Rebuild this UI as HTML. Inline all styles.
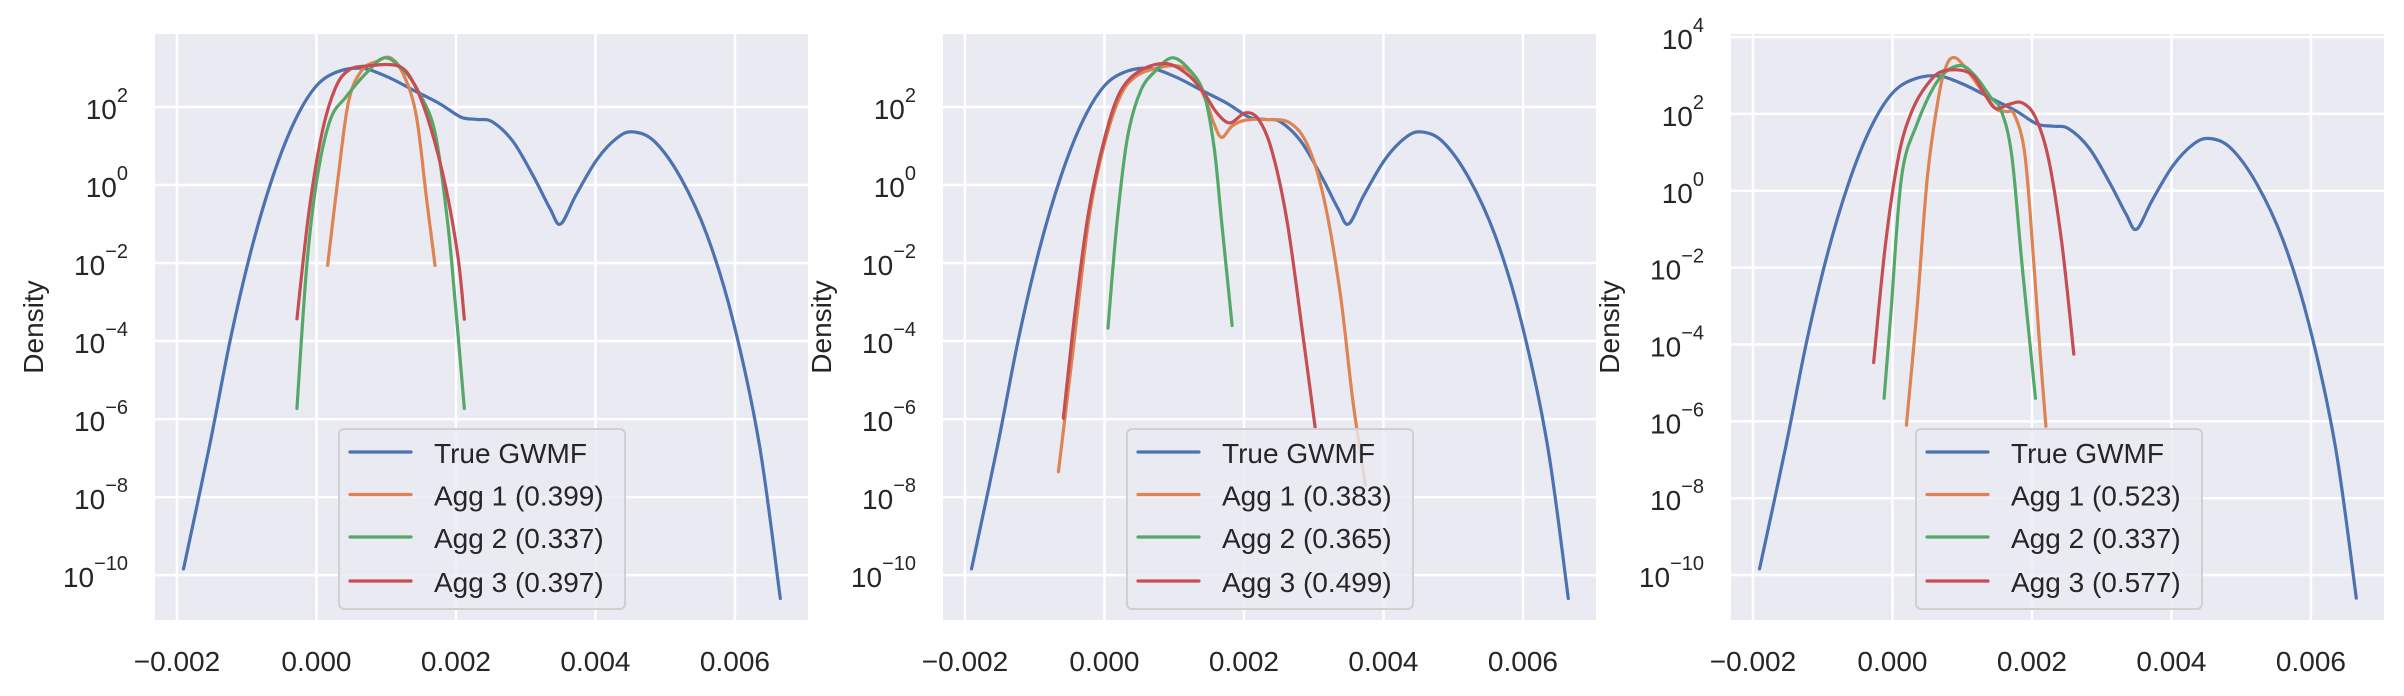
<!DOCTYPE html>
<html><head><meta charset="utf-8"><style>
html,body{margin:0;padding:0;background:#fff;}
svg{display:block;font-family:"Liberation Sans",sans-serif;}
</style></head><body>
<svg id="fig" width="2404" height="696" viewBox="0 0 2404 696" xmlns="http://www.w3.org/2000/svg"></svg>
<script>
// ---- data (x, log10 density) ----
const xTicks = [-0.002, 0.000, 0.002, 0.004, 0.006];
const xTickLabels = ["\u22120.002","0.000","0.002","0.004","0.006"];
const yTicks12 = [2,0,-2,-4,-6,-8,-10];
const yTicks3 = [4,2,0,-2,-4,-6,-8,-10];
const seriesNames = ["True GWMF","Agg 1","Agg 2","Agg 3"];
const scores1 = ["0.399","0.337","0.397"];
const scores2 = ["0.383","0.365","0.499"];
const scores3 = ["0.523","0.337","0.577"];
const trueX = [-0.001906,-0.00153,-0.00123,-0.00093,-0.00063,-0.00033,-0.00003,0.00027,0.00065,0.00102,0.0014,0.00177,0.00207,0.0023,0.00252,0.00282,0.00312,0.00335,0.0035,0.00372,0.00402,0.00432,0.00455,0.00485,0.00522,0.0056,0.00597,0.00635,0.00665];
const trueY = [-9.84,-6.66,-3.92,-1.63,0.19,1.57,2.48,2.88,2.99,2.77,2.42,2.08,1.74,1.68,1.62,1.11,0.19,-0.61,-1.0,-0.26,0.65,1.22,1.36,1.11,0.19,-1.29,-3.46,-6.66,-10.6];
// panel 1
const p1a1X=[0.00016,0.00031,0.00046,0.00065,0.00087,0.00106,0.00125,0.00143,0.00158,0.0017];
const p1a1Y=[-2.06,0.19,2.14,2.94,3.17,3.26,2.82,1.79,-0.38,-2.06];
const p1a2X=[-0.00028,-0.00014,0.00001,0.0002,0.00042,0.00072,0.00098,0.00125,0.00147,0.0017,0.00188,0.002,0.00212];
const p1a2Y=[-5.73,-2.09,0.19,1.68,2.25,2.88,3.26,2.94,2.37,1.34,-0.95,-3.23,-5.73];
const p1a3X=[-0.00028,-0.00011,0.00008,0.00027,0.00046,0.00072,0.00117,0.0014,0.00162,0.00185,0.00203,0.00212];
const p1a3Y=[-3.43,-0.72,1.34,2.48,2.94,3.05,3.05,2.59,1.57,-0.03,-1.86,-3.44];
// panel 2
const p2a1X=[-0.00066,-0.00046,-0.00023,-0.00001,0.00022,0.00044,0.00074,0.00105,0.00127,0.00146,0.00157,0.00168,0.00183,0.00202,0.00232,0.00266,0.00292,0.00315,0.00338,0.00356,0.00374];
const p2a1Y=[-7.35,-4.38,-0.95,0.99,2.25,2.77,2.99,3.05,2.82,2.14,1.57,1.22,1.51,1.66,1.68,1.59,0.99,-0.38,-2.78,-5.52,-7.69];
const p2a2X=[0.00005,0.00018,0.00033,0.00052,0.00074,0.00097,0.0012,0.00142,0.00157,0.00168,0.00183];
const p2a2Y=[-3.67,-0.95,1.22,2.42,2.94,3.26,2.99,2.37,0.99,-0.95,-3.6];
const p2a3X=[-0.00059,-0.00042,-0.00023,-0.00001,0.00022,0.00052,0.00089,0.0012,0.00142,0.00161,0.0018,0.00202,0.00221,0.0024,0.00262,0.00285,0.00302];
const p2a3Y=[-5.98,-3.23,-0.72,1.11,2.37,2.94,3.11,2.82,2.37,1.85,1.59,1.85,1.68,0.88,-0.95,-3.92,-6.21];
// panel 3
const p3a1X=[0.0002,0.00035,0.0005,0.00066,0.00077,0.00088,0.00103,0.00126,0.00148,0.00163,0.00175,0.0019,0.00203,0.00212,0.0022];
const p3a1Y=[-6.1,-3.12,0.35,2.43,3.24,3.47,3.24,2.66,2.14,2.06,1.97,0.92,-1.97,-4.28,-6.13];
const p3a2X=[-0.00012,-0.00002,0.00013,0.00035,0.00066,0.00096,0.00118,0.00141,0.00156,0.00171,0.00186,0.00205];
const p3a2Y=[-5.4,-3.12,0.35,1.73,2.89,3.26,3.0,2.43,2.08,0.92,-1.97,-5.4];
const p3a3X=[-0.00027,-0.0001,0.00009,0.00028,0.0005,0.00073,0.00111,0.00133,0.00148,0.00167,0.00186,0.00205,0.00224,0.00243,0.0026];
const p3a3Y=[-4.47,-1.39,0.92,2.08,2.77,3.12,3.06,2.49,2.14,2.25,2.29,1.91,0.81,-1.39,-4.25];

const colors=["#4c72b0","#dd8452","#55a868","#c44e52"];
const NS="http://www.w3.org/2000/svg";
const svg=document.getElementById('fig');
function mk(tag,attrs,parent){const e=document.createElementNS(NS,tag);for(const k in attrs)e.setAttribute(k,attrs[k]);(parent||svg).appendChild(e);return e;}

const panels=[
 {left:155,right:808,ymin:-11.15,ymax:3.87,yt:yTicks12,scores:scores1,series:[[p1a1X,p1a1Y],[p1a2X,p1a2Y],[p1a3X,p1a3Y]],legX:339},
 {left:943,right:1596,ymin:-11.15,ymax:3.87,yt:yTicks12,scores:scores2,series:[[p2a1X,p2a1Y],[p2a2X,p2a2Y],[p2a3X,p2a3Y]],legX:1127},
 {left:1731,right:2384,ymin:-11.17,ymax:4.08,yt:yTicks3,scores:scores3,series:[[p3a1X,p3a1Y],[p3a2X,p3a2Y],[p3a3X,p3a3Y]],legX:1916}
];
const TOP=34,BOT=620,XMIN=-0.002315,XMAX=0.007047;

function pathFrom(xs,ys,sx,sy){
 const p=xs.map((x,i)=>[sx(x),sy(ys[i])]);
 let d="M"+p[0][0].toFixed(2)+","+p[0][1].toFixed(2);
 for(let i=0;i<p.length-1;i++){
  const p0=p[Math.max(0,i-1)],p1=p[i],p2=p[i+1],p3=p[Math.min(p.length-1,i+2)];
  const c1=[p1[0]+(p2[0]-p0[0])/6,p1[1]+(p2[1]-p0[1])/6];
  const c2=[p2[0]-(p3[0]-p1[0])/6,p2[1]-(p3[1]-p1[1])/6];
  d+=" C"+c1[0].toFixed(2)+","+c1[1].toFixed(2)+" "+c2[0].toFixed(2)+","+c2[1].toFixed(2)+" "+p2[0].toFixed(2)+","+p2[1].toFixed(2);
 }
 return d;
}

panels.forEach((P,pi)=>{
 const g=mk('g',{});
 
 
 const sx=x=>P.left+(x-XMIN)/(XMAX-XMIN)*(P.right-P.left);
 const sy=v=>BOT-(v-P.ymin)/(P.ymax-P.ymin)*(BOT-TOP);
 const bg=mk('rect',{x:P.left,y:TOP,width:P.right-P.left,height:BOT-TOP,fill:"#eaeaf2"},g);
 
 
 P.yt.forEach(t=>{
  const y=sy(t);
  const l=mk('line',{x1:P.left,x2:P.right,y1:y,y2:y,stroke:"#fff","stroke-width":2.5},g);
  
  
  const tx=mk('text',{x:P.left-27,y:y+12,"text-anchor":"end","font-size":28,fill:"#262626"},g);
  
  
  tx.appendChild(document.createTextNode("10"));
  const sup=mk('tspan',{"font-size":20,dy:-17},tx);
  sup.textContent=(t<0?"\u2212"+(-t):String(t));
 });
 xTicks.forEach((t,i)=>{
  const x=sx(t);
  const l=mk('line',{x1:x,x2:x,y1:TOP,y2:BOT,stroke:"#fff","stroke-width":2.5},g);
  
  
  const tx=mk('text',{x:x,y:671,"text-anchor":"middle","font-size":28,fill:"#262626"},g);
  
  
  tx.textContent=xTickLabels[i];
 });
 const yl=mk('text',{x:0,y:0,transform:"translate("+(P.left-112)+",327) rotate(-90)","text-anchor":"middle","font-size":28,fill:"#262626"},g);
 
 
 yl.textContent="Density";
 const all=[[trueX,trueY]].concat(P.series);
 all.forEach((s,si)=>{
  const p=mk('path',{d:pathFrom(s[0],s[1],sx,sy),fill:"none",stroke:colors[si],"stroke-width":3.2,"stroke-linecap":"round","stroke-linejoin":"round"},g);
  
  
 });
 const lg=mk('g',{},g);
 
 
 const lx=P.legX;
 mk('rect',{x:lx,y:429,width:286,height:180,rx:5,fill:"#eaeaf2","fill-opacity":0.8,stroke:"#d0d0d0","stroke-width":2},lg);
 const ys=[452,494.5,537,581];
 seriesNames.forEach((n,si)=>{
  const e=mk('g',{},lg);
  
  
  mk('line',{x1:lx+11,x2:lx+72,y1:ys[si],y2:ys[si],stroke:colors[si],"stroke-width":3.2,"stroke-linecap":"round"},e);
  const t=mk('text',{x:lx+95,y:ys[si]+11,"font-size":28,fill:"#262626"},e);
  t.textContent=si===0?n:n+" ("+P.scores[si-1]+")";
 });
});
</script>
</body></html>
